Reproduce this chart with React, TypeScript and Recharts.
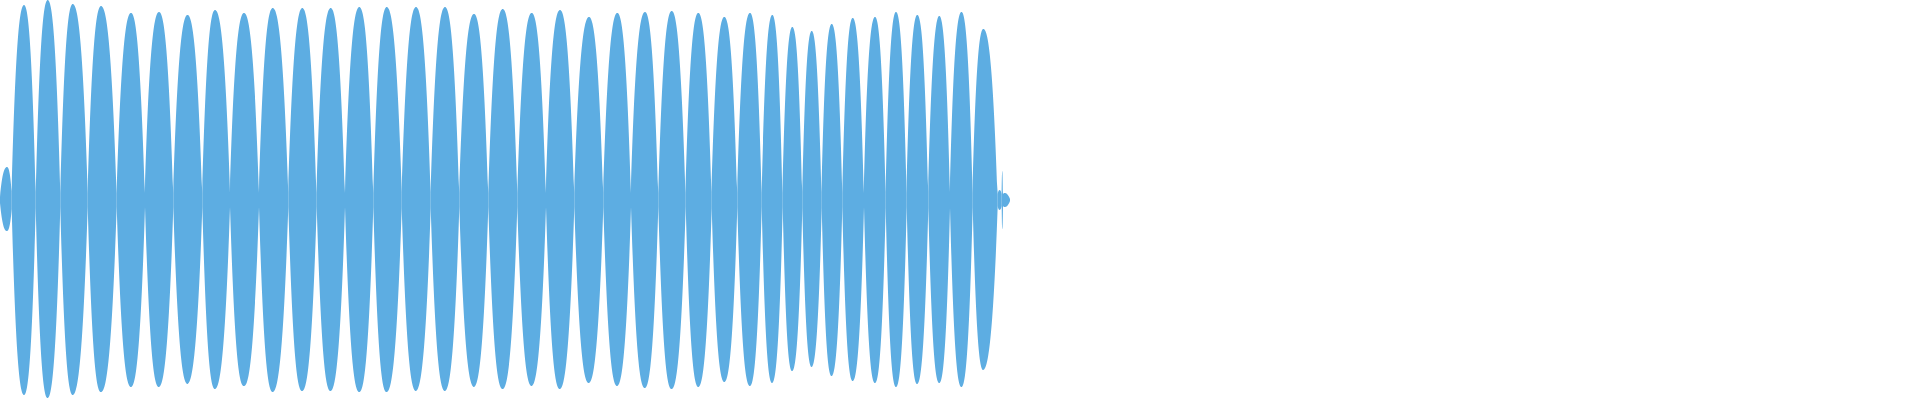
import { AreaChart, Area, XAxis, YAxis } from 'recharts';

// envelope of the waveform, read lobe by lobe (x in px along the track, amplitude in px from centre)
const neckX = [
  0, 11.7, 35.7, 60.3, 87.7, 116.7, 145, 173.3, 202.3, 230,
  259, 288.3, 316.7, 345, 373.3, 401.7, 430.7, 459.3, 488.3, 517.3,
  546, 574.3, 603.3, 631, 658.3, 685.7, 711.7, 737.3, 761.7, 782.7,
  802.3, 821.7, 842.3, 864, 885.7, 906.7, 928.3, 950, 972.7, 997.7,
  1001.7, 1003, 1010,
];
const neckAmp = [
  3, 9, 8, 7, 7, 7, 7, 7, 7, 7,
  7, 7, 7, 7, 7, 8, 8, 7, 7, 7,
  7, 7, 7, 7, 7, 7, 8, 7, 7, 7,
  8, 8, 7, 7, 8, 7, 8, 8, 7, 6,
  6, 6, 1,
];
const peakX = [
  7, 24, 47.7, 72.7, 101, 131, 159, 187.5, 215, 244,
  272.7, 302.3, 330.7, 359.3, 386.7, 416, 445, 474, 502.7, 531.7,
  560, 589, 617.3, 645, 671.7, 698.3, 724.3, 750, 772.3, 792.3,
  811.7, 831.7, 852.7, 875, 896, 917.3, 939.3, 961.5, 983.3, 999.5,
  1002.3, 1004.5,
];
const peakTop = [
  33, 195, 200, 196, 194, 187, 188, 185, 190, 187,
  192, 192, 192, 193, 193, 193, 193, 186, 191, 187,
  190, 183, 187, 188, 189, 187, 183, 187, 185, 173,
  169, 176, 182, 183, 188, 185, 184, 188, 171, 10,
  29, 7,
];
const peakBottom = [
  31, 195, 198, 195, 192, 187, 187, 184, 189, 186,
  192, 191, 191, 192, 192, 191, 191, 187, 189, 186,
  189, 183, 186, 188, 189, 187, 182, 186, 183, 171,
  167, 176, 181, 183, 187, 184, 183, 187, 170, 10,
  29, 7,
];

type Row = { x: number; even: number[] | null; odd: number[] | null };

// lobes alternate between two series so each lobe is its own curve segment
const buildRows = (): Row[] => {
  const rows: Row[] = [];
  neckX.forEach((x, j) => {
    const band = [-neckAmp[j], neckAmp[j]];
    const row: Row = { x, even: null, odd: null };
    [j - 1, j < peakX.length ? j : -1].forEach((l) => {
      if (l < 0) return;
      if (l % 2 === 0) row.even = band;
      else row.odd = band;
    });
    rows.push(row);
    if (j < peakX.length) {
      const peak = [-peakBottom[j], peakTop[j]];
      rows.push({
        x: peakX[j],
        even: j % 2 === 0 ? peak : null,
        odd: j % 2 === 1 ? peak : null,
      });
    }
  });
  return rows;
};

const data = buildRows();
const color = '#5DADE2';

// hermite curve: flat at the lobe peak, steep where it leaves the neck
const NECK_GAIN = 2.5;
const envelopeCurve = (context: any) => {
  let line = NaN;
  let pts: [number, number][] = [];
  const secant = (i: number) => {
    const dx = pts[i + 1][0] - pts[i][0];
    return dx ? (pts[i + 1][1] - pts[i][1]) / dx : 0;
  };
  return {
    areaStart() { line = 0; },
    areaEnd() { line = NaN; },
    lineStart() { pts = []; },
    lineEnd() {
      const n = pts.length;
      if (n) {
        if (line) context.lineTo(pts[0][0], pts[0][1]);
        else context.moveTo(pts[0][0], pts[0][1]);
        const tangent = (i: number) => {
          if (n < 3) return secant(0);
          if (i === 0) return NECK_GAIN * secant(0);
          if (i === n - 1) return NECK_GAIN * secant(n - 2);
          const a = secant(i - 1);
          const b = secant(i);
          return a * b <= 0 ? 0 : (a + b) / 2;
        };
        for (let i = 0; i < n - 1; i++) {
          const [x0, y0] = pts[i];
          const [x1, y1] = pts[i + 1];
          const h = (x1 - x0) / 3;
          context.bezierCurveTo(x0 + h, y0 + tangent(i) * h, x1 - h, y1 - tangent(i + 1) * h, x1, y1);
        }
      }
      if (line || (line !== 0 && n === 1)) context.closePath();
      line = 1 - line;
    },
    point(x: number, y: number) { pts.push([+x, +y]); },
  };
};

export default function App() {
  return (
    <div style={{ position: 'absolute', left: 0, top: 0, width: 1920, height: 400 }}>
      <AreaChart width={1920} height={400} data={data} margin={{ top: 0, right: 0, bottom: 0, left: 0 }}>
        <XAxis type="number" dataKey="x" domain={[0, 1920]} hide />
        <YAxis type="number" domain={[-200, 200]} hide />
        <Area
          type={envelopeCurve as any}
          dataKey="even"
          stroke="none"
          fill={color}
          fillOpacity={1}
          dot={false}
          activeDot={false}
          isAnimationActive={false}
        />
        <Area
          type={envelopeCurve as any}
          dataKey="odd"
          stroke="none"
          fill={color}
          fillOpacity={1}
          dot={false}
          activeDot={false}
          isAnimationActive={false}
        />
      </AreaChart>
    </div>
  );
}
